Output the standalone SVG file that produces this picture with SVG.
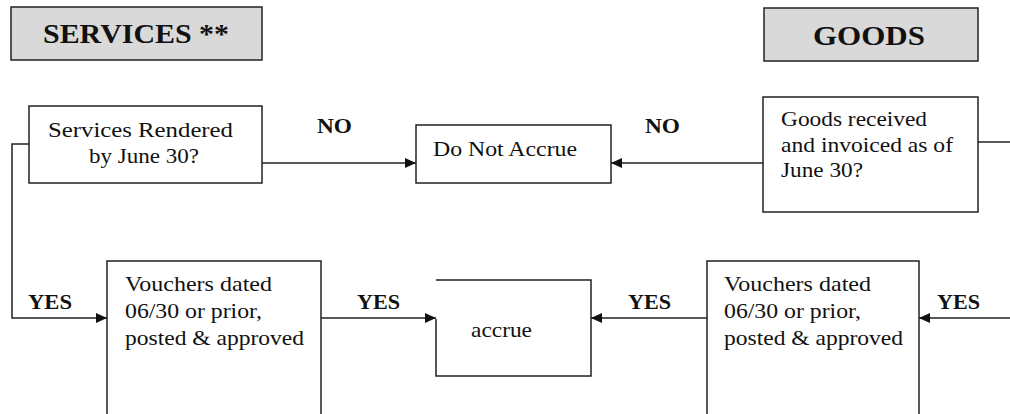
<svg xmlns="http://www.w3.org/2000/svg" width="1010" height="414" viewBox="0 0 1010 414">
<style>
.bg{fill:#ffffff}
.hdr{fill:#d9d9d9;stroke:#222;stroke-width:1.5}
.box{fill:#ffffff;stroke:#222;stroke-width:1.5}
.ln{fill:none;stroke:#222;stroke-width:1.5}
text{font-family:'Liberation Serif','Times New Roman',serif}
.t{font-size:21.5px;fill:#111}
.b{font-size:21.5px;font-weight:bold;fill:#111}
.h{font-size:27px;font-weight:bold;fill:#111}
</style>
<defs>
<marker id="arr" markerUnits="userSpaceOnUse" markerWidth="12" markerHeight="11" refX="11" refY="5" orient="auto">
<path d="M0,0 L11,5 L0,10 z" fill="#111"/>
</marker>
</defs>
<rect class="bg" x="0" y="0" width="1010" height="414"/>

<g id="services-header">
<rect class="hdr" x="11" y="7" width="251" height="53"/>
<text class="h" x="43" y="43" textLength="186" lengthAdjust="spacingAndGlyphs">SERVICES **</text>
</g>

<g id="goods-header">
<rect class="hdr" x="764" y="8" width="214" height="53"/>
<text class="h" x="813" y="45" textLength="112" lengthAdjust="spacingAndGlyphs">GOODS</text>
</g>

<g id="services-rendered">
<rect class="box" x="29" y="106" width="233" height="77"/>
<text class="t" x="48" y="137" textLength="185" lengthAdjust="spacingAndGlyphs">Services Rendered</text>
<text class="t" x="89" y="163" textLength="110" lengthAdjust="spacingAndGlyphs">by June 30?</text>
</g>

<g id="do-not-accrue">
<rect class="box" x="416" y="125" width="195" height="58"/>
<text class="t" x="433" y="156" textLength="144" lengthAdjust="spacingAndGlyphs">Do Not Accrue</text>
</g>

<g id="goods-received">
<rect class="box" x="763" y="97" width="215" height="115"/>
<text class="t" x="781" y="126" textLength="146" lengthAdjust="spacingAndGlyphs">Goods received</text>
<text class="t" x="781" y="152" textLength="172" lengthAdjust="spacingAndGlyphs">and invoiced as of</text>
<text class="t" x="781" y="177" textLength="82" lengthAdjust="spacingAndGlyphs">June 30?</text>
</g>

<g id="vouchers-services">
<rect class="box" x="107" y="261" width="214" height="170"/>
<text class="t" x="125" y="291" textLength="147" lengthAdjust="spacingAndGlyphs">Vouchers dated</text>
<text class="t" x="125" y="318" textLength="137" lengthAdjust="spacingAndGlyphs">06/30 or prior,</text>
<text class="t" x="125" y="345" textLength="179" lengthAdjust="spacingAndGlyphs">posted &amp; approved</text>
</g>

<g id="accrue">
<path class="box" d="M436,319 V376 H591 V280 H436"/>
<text class="t" x="471" y="337" textLength="61" lengthAdjust="spacingAndGlyphs">accrue</text>
</g>

<g id="vouchers-goods">
<rect class="box" x="707" y="261" width="212" height="170"/>
<text class="t" x="724" y="291" textLength="147" lengthAdjust="spacingAndGlyphs">Vouchers dated</text>
<text class="t" x="724" y="318" textLength="137" lengthAdjust="spacingAndGlyphs">06/30 or prior,</text>
<text class="t" x="724" y="345" textLength="179" lengthAdjust="spacingAndGlyphs">posted &amp; approved</text>
</g>

<g id="connectors">
<path class="ln" d="M262,163 H416" marker-end="url(#arr)"/>
<path class="ln" d="M763,163 H611" marker-end="url(#arr)"/>
<path class="ln" d="M29,144 H12 V318 H107" marker-end="url(#arr)"/>
<path class="ln" d="M321,318 H436" marker-end="url(#arr)"/>
<path class="ln" d="M707,318 H591" marker-end="url(#arr)"/>
<path class="ln" d="M978,142 H1012"/>
<path class="ln" d="M1012,318 H919" marker-end="url(#arr)"/>
<text class="b" x="317" y="133" textLength="35" lengthAdjust="spacingAndGlyphs">NO</text>
<text class="b" x="645" y="133" textLength="35" lengthAdjust="spacingAndGlyphs">NO</text>
<text class="b" x="28" y="309" textLength="44" lengthAdjust="spacingAndGlyphs">YES</text>
<text class="b" x="357" y="309" textLength="43" lengthAdjust="spacingAndGlyphs">YES</text>
<text class="b" x="628" y="309" textLength="43" lengthAdjust="spacingAndGlyphs">YES</text>
<text class="b" x="937" y="309" textLength="43" lengthAdjust="spacingAndGlyphs">YES</text>
</g>
</svg>
